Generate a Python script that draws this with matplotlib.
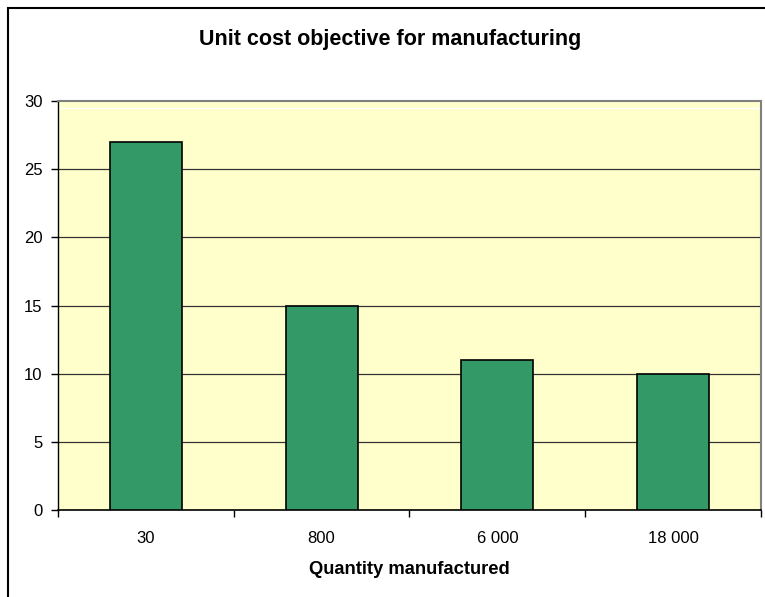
import matplotlib.pyplot as plt
import matplotlib.patches as patches
import numpy as np

quantities = ["30", "800", "6 000", "18 000"]
unit_cost = [27, 15, 11, 10]
y_ticks = [0, 5, 10, 15, 20, 25, 30]

plt.rcParams["font.family"] = ["Liberation Sans", "DejaVu Sans"]

fig = plt.figure(figsize=(7.65, 5.97), dpi=100)
ax = fig.add_axes([58 / 765, 1 - 510 / 597, (761 - 58) / 765, (510 - 101) / 597])
ax.set_facecolor("#FFFFCC")

x = np.arange(len(quantities))
ax.bar(x, unit_cost, width=0.41, color="#339966", edgecolor="black", linewidth=1.2, zorder=3)

# horizontal gridlines
for t in y_ticks[1:-1]:
    ax.axhline(t, color="#333333", linewidth=0.9, zorder=1)
ax.axhline(29.48, color="white", linewidth=1.0, zorder=1)

ax.set_xlim(-0.5, len(quantities) - 0.5)
ax.set_ylim(0, 30)
ax.set_yticks(y_ticks)
ax.set_xticks(x)
ax.set_xticklabels(quantities)
ax.set_xticks(np.arange(len(quantities) + 1) - 0.5, minor=True)
ax.tick_params(axis="x", which="major", length=0, pad=15, labelsize=12)
ax.tick_params(axis="x", which="minor", length=5, width=1, direction="out")
ax.tick_params(axis="y", length=5, width=1, direction="out", labelsize=12, pad=6)

ax.spines["left"].set_color("black")
ax.spines["bottom"].set_color("black")
ax.spines["left"].set_linewidth(1.0)
ax.spines["bottom"].set_linewidth(1.2)
ax.spines["top"].set_color("#808080")
ax.spines["right"].set_color("#808080")
ax.spines["top"].set_linewidth(1.5)
ax.spines["right"].set_linewidth(1.5)

fig.text(390 / 765, 1 - 40 / 597, "Unit cost objective for manufacturing",
         ha="center", va="center", fontsize=15.5, fontweight="bold")
fig.text(409 / 765, 1 - 570 / 597, "Quantity manufactured",
         ha="center", va="center", fontsize=13.2, fontweight="bold")

# chart frame
fig.patches.append(patches.Rectangle((7.5 / 765, -0.1), 1.2, 1.1 - 7.5 / 597,
                                     transform=fig.transFigure, fill=False,
                                     edgecolor="black", linewidth=1.5))

fig.savefig("out.png", dpi=100)
